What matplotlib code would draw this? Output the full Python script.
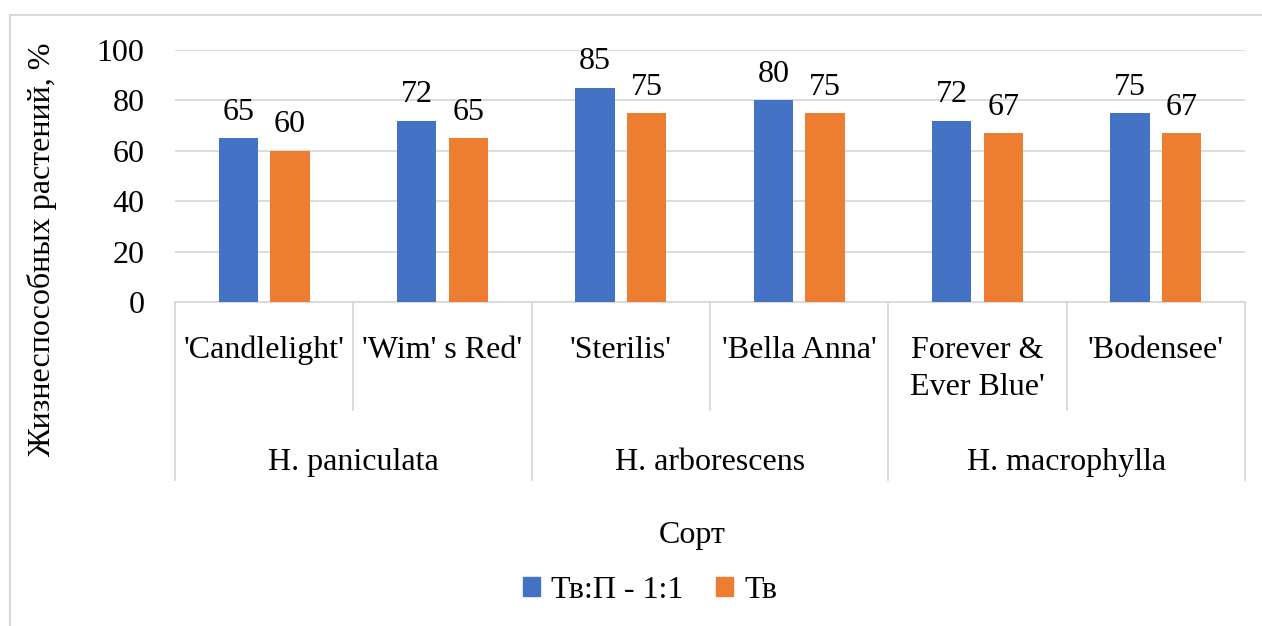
import matplotlib.pyplot as plt
import matplotlib.transforms as mtransforms
from matplotlib.patches import Rectangle, Patch
import numpy as np

plt.rcParams['font.family'] = ['Liberation Serif', 'DejaVu Serif']

# data
cultivars = ["'Candlelight'", "'Wim' s Red'", "'Sterilis'", "'Bella Anna'",
             "Forever &\nEver Blue'", "'Bodensee'"]
species = ["H. paniculata", "H. arborescens", "H. macrophylla"]
tv_p = [65, 72, 85, 80, 72, 75]
tv = [60, 65, 75, 75, 67, 67]
series_names = ["Тв:П - 1:1", "Тв"]
colors = ["#4472C4", "#ED7D31"]

W, H = 1262, 626
fig = plt.figure(figsize=(W / 100, H / 100), dpi=100)
ax = fig.add_axes([175 / W, 1 - 302 / H, 1070 / W, 252 / H])

x = np.arange(len(cultivars))
bw = 0.22
ax.bar(x - 0.145, tv_p, bw, color=colors[0], zorder=3)
ax.bar(x + 0.145, tv, bw, color=colors[1], zorder=3)

fs = 23
for xi, v in zip(x - 0.145, tv_p):
    ax.text(xi, v + 4.5, str(v), ha='center', va='bottom', fontsize=fs)
for xi, v in zip(x + 0.145, tv):
    ax.text(xi, v + 4.5, str(v), ha='center', va='bottom', fontsize=fs)

ax.set_xlim(-0.5, len(cultivars) - 0.5)
ax.set_ylim(0, 100)
ax.set_yticks(range(0, 101, 20))
ax.tick_params(axis='y', length=0, labelsize=fs, pad=22)
ax.set_xticks([])
ax.grid(axis='y', color='#D9D9D9', linewidth=1.3, zorder=0)
for s in ['left', 'right', 'top']:
    ax.spines[s].set_visible(False)
ax.spines['bottom'].set_color('#D9D9D9')
ax.spines['bottom'].set_linewidth(1.3)

# two-level category axis
tr = mtransforms.blended_transform_factory(ax.transData, ax.transAxes)
sub_bot = -108 / 252
grp_bot = -178 / 252
for i in range(len(cultivars) + 1):
    b = grp_bot if i % 2 == 0 else sub_bot
    ax.plot([i - 0.5, i - 0.5], [0, b], transform=tr, color='#D9D9D9',
            lw=1.3, clip_on=False)
for i, lab in enumerate(cultivars):
    ax.text(i, -34 / 252, lab, transform=tr, ha='center', va='top',
            fontsize=fs, linespacing=1.35)
for j, lab in enumerate(species):
    ax.text(2 * j + 0.5, -161 / 252, lab, transform=tr, ha='center',
            va='center', fontsize=fs)

fig.text(692 / W, 1 - 535 / H, "Сорт", ha='center', va='center', fontsize=fs)
fig.text(42 / W, 1 - 250 / H, "Жизнеспособных растений, %", rotation=90,
         ha='center', va='center', fontsize=fs)

handles = [Patch(color=c) for c in colors]
fig.legend(handles, series_names, loc='center', ncol=2, frameon=False,
           bbox_to_anchor=(650 / W, 1 - 590 / H), fontsize=fs,
           handlelength=0.55, handleheight=0.55, handletextpad=0.35,
           columnspacing=1.0)

# chart border
fig.add_artist(Rectangle((10 / W, -0.05), 1.1, 1 - 15 / H + 0.05,
                         transform=fig.transFigure, fill=False,
                         edgecolor='#D9D9D9', lw=1.5))

fig.savefig('out.png', dpi=100)
